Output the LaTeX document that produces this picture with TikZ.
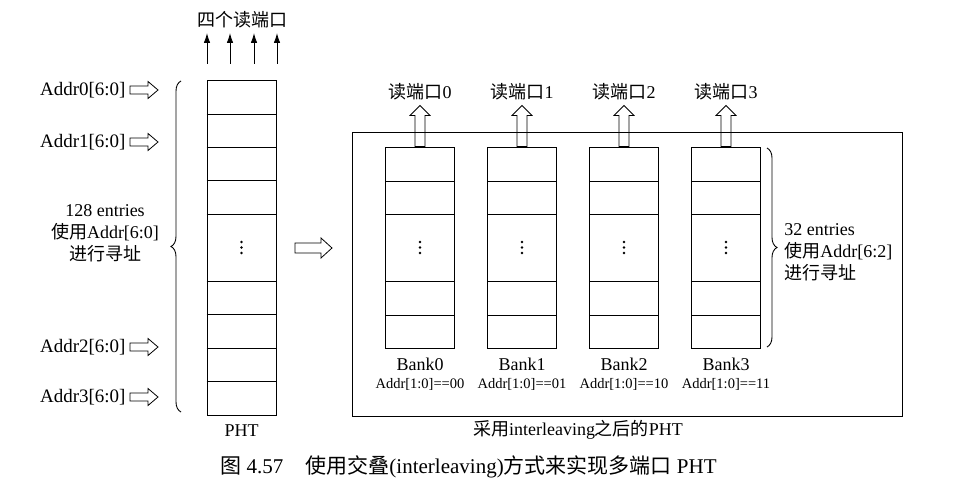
\documentclass[tikz,border=0pt]{standalone}
\usepackage{fontspec}
\setmainfont{Liberation Serif}
\newfontfamily\cjk{Noto Sans CJK SC}
\usetikzlibrary{arrows.meta,decorations.pathreplacing}
\begin{document}
\begin{tikzpicture}[x=1pt,y=-1pt,line width=0.9pt,
  lbl/.style={font=\fontsize{18}{22}\selectfont,inner sep=0pt},
  addrlbl/.style={font=\fontsize{19}{22}\selectfont,inner sep=0pt},
  small/.style={font=\fontsize{14.5}{16}\selectfont,inner sep=0pt},
  capt/.style={font=\fontsize{21}{24}\selectfont,inner sep=0pt},
  tbl/.style={draw,minimum width=69pt,inner sep=0pt},
  hollowright/.pic={\draw[line width=0.8pt,line join=miter] (0,-4) -- (18,-4) -- (18,-8.5) -- (28,0) -- (18,8.5) -- (18,4) -- (0,4) -- cycle;},
  bigright/.pic={\draw[line width=0.8pt,line join=miter] (0,-5) -- (26,-5) -- (26,-10) -- (37,0) -- (26,10) -- (26,5) -- (0,5) -- cycle;},
  hollowup/.pic={\draw[line width=0.8pt,line join=miter] (-5,0) -- (-5,-31) -- (-10,-31) -- (0,-41) -- (10,-31) -- (5,-31) -- (5,0) -- cycle;},
  vdotsmark/.pic={\foreach \d in {-5.5,0,5.5} \fill (0,\d) circle (1.3pt);}
]
\useasboundingbox (0,0) rectangle (959,484);

% ---------- left PHT ----------
\node[tbl,minimum height=335pt] (pht) at (241.5,247.5) {};
\foreach \yy in {114,147,180,214,281,314,348,381}
  \draw (pht.west |- 0,\yy) -- (pht.east |- 0,\yy);
\pic at (pht.center) {vdotsmark};
\node[lbl,anchor=north] (phtlbl) at (241.5,424) {PHT};

% top read ports
\node[lbl] (four) at (242,20) {\cjk 四个读端口};
\foreach \xx/\n in {207/a,230/b,254/c,277/d}{
  \coordinate (s\n) at (\xx,64);
  \coordinate (e\n) at (\xx,33);
  \draw[-{Latex[length=10pt,width=6.5pt]}] (s\n) -- (e\n);
}

% address inputs
\foreach \i/\yy in {0/90,1/142,2/347,3/397}{
  \node[addrlbl,anchor=east] (addr\i) at (126,\yy) {Addr\i[6:0]};
  \pic at ([xshift=4pt]addr\i.east) {hollowright};
}

% left brace
\coordinate (lb1) at (181,412);
\coordinate (lb2) at (181,81);
\draw[decorate,decoration={brace,amplitude=10pt}] (lb1) -- (lb2);
\node[lbl,align=center] (lefttxt) at (105,233) {128 entries\\{\cjk 使用}Addr[6:0]\\{\cjk 进行寻址}};

% middle arrow
\coordinate (mid) at (295,248);
\pic at (mid) {bigright};

% ---------- right: interleaved PHT ----------
\node[draw,minimum width=550pt,minimum height=284pt,inner sep=0pt] (outer) at (627,274) {};
\node[lbl,anchor=north] (outerlbl) at (578,420) {{\cjk 采用}interleaving{\cjk 之后的}PHT};

\foreach \i/\xx/\code in {0/420/00,1/522/01,2/624/10,3/726/11}{
  \node[tbl,minimum height=201pt] (b\i) at (\xx,247.5) {};
  \foreach \yy in {181,214,281,315}
    \draw (b\i.west |- 0,\yy) -- (b\i.east |- 0,\yy);
  \pic at (b\i.center) {vdotsmark};
  \pic at (b\i.north) {hollowup};
  \node[lbl] (rp\i) at (\xx,92) {{\cjk 读端口}\i};
  \node[lbl] (bl\i) at (\xx,364) {Bank\i};
  \node[small] (ad\i) at (\xx,384) {Addr[1:0]==\code};
}

% right brace
\coordinate (rb1) at (767,148);
\coordinate (rb2) at (767,347);
\draw[decorate,decoration={brace,amplitude=10pt}] (rb1) -- (rb2);
\node[lbl,align=left,anchor=west] (righttxt) at (784,252) {32 entries\\{\cjk 使用}Addr[6:2]\\{\cjk 进行寻址}};

% caption
\node[capt,anchor=west] (caption) at (220,467) {{\cjk 图} 4.57\hspace{22pt}{\cjk 使用交叠}(interleaving){\cjk 方式来实现多端口} PHT};
\end{tikzpicture}
\end{document}
